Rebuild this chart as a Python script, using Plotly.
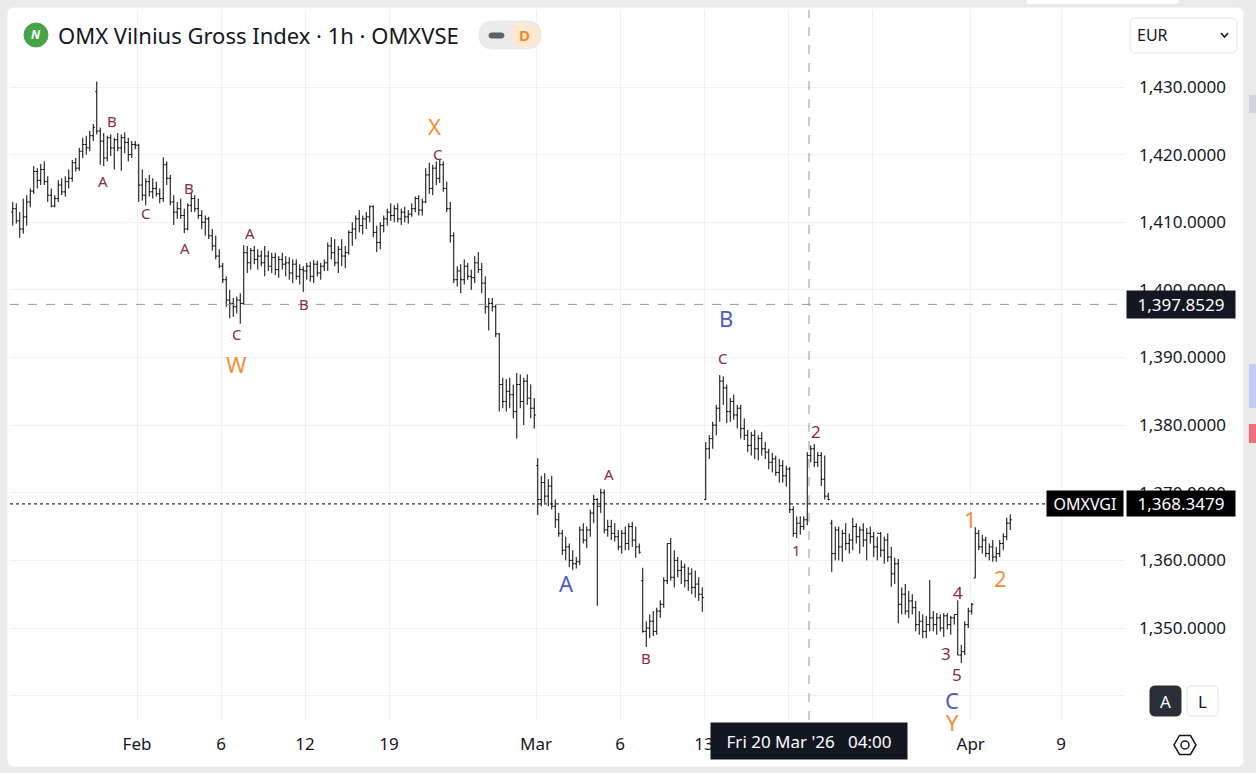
"""OMX Vilnius Gross Index, 1h OHLC bars with Elliott wave labels."""

import plotly.graph_objects as go

# ---- data -----------------------------------------------------------------
BARS_PER_DAY = 6  # hourly bars per session

opens = [
    1411.5, 1412.0, 1410.2, 1409.0, 1410.8, 1413.0,  # Jan 23
    1414.6, 1417.5, 1416.2, 1417.8, 1416.0, 1414.0,  # Jan 26
    1412.4, 1413.5, 1415.5, 1414.5, 1416.0, 1416.5,  # Jan 27
    1418.8, 1418.0, 1420.5, 1421.5, 1421.0, 1422.8,  # Jan 28
    1429.3, 1423.5, 1422.0, 1419.5, 1422.5, 1421.0,  # Jan 29
    1422.2, 1421.0, 1422.5, 1421.8, 1420.0, 1421.5,  # Jan 30
    1421.4, 1415.5, 1414.0, 1416.0, 1414.5, 1415.0,  # Feb 2
    1414.2, 1413.5, 1418.5, 1416.5, 1413.0, 1411.5,  # Feb 3
    1412.0, 1411.0, 1409.0, 1412.5, 1413.5, 1412.0,  # Feb 4
    1411.0, 1410.0, 1410.5, 1408.0, 1406.5, 1405.0,  # Feb 5
    1403.5, 1401.5, 1398.5, 1398.0, 1397.5, 1398.5,  # Feb 6
    1398.0, 1405.5, 1404.0, 1405.8, 1404.5, 1405.0,  # Feb 9
    1404.0, 1405.0, 1403.5, 1404.8, 1403.0, 1404.5,  # Feb 10
    1403.8, 1404.0, 1402.5, 1403.8, 1402.0, 1403.0,  # Feb 11
    1402.8, 1403.5, 1402.0, 1403.8, 1402.5, 1403.5,  # Feb 12
    1404.0, 1406.5, 1405.5, 1404.0, 1406.0, 1405.0,  # Feb 13
    1405.5, 1408.5, 1409.0, 1410.5, 1409.5, 1410.5,  # Feb 17
    1410.8, 1412.3, 1408.5, 1407.0, 1409.5, 1410.5,  # Feb 18
    1411.5, 1411.0, 1412.0, 1410.5, 1411.5, 1410.8,  # Feb 19
    1411.2, 1412.0, 1413.5, 1411.8, 1413.0, 1417.0,  # Feb 20
    1415.0, 1418.0, 1416.5, 1418.5, 1415.0, 1412.0,  # Feb 23
    1408.0, 1401.5, 1402.8, 1401.5, 1403.5, 1402.0,  # Feb 24
    1401.8, 1404.0, 1403.0, 1401.0, 1397.5, 1398.0,  # Feb 25
    1397.5, 1393.5, 1386.0, 1383.5, 1385.0, 1384.5,  # Feb 26
    1382.0, 1386.0, 1383.5, 1386.5, 1384.0, 1382.5,  # Feb 27
    1374.0, 1369.0, 1371.5, 1369.5, 1371.0, 1368.0,  # Mar 2
    1366.0, 1364.0, 1361.5, 1362.0, 1360.0, 1359.5,  # Mar 3
    1359.8, 1364.5, 1363.0, 1364.5, 1367.0, 1369.0,  # Mar 4
    1368.0, 1370.0, 1364.5, 1365.0, 1364.0, 1363.5,  # Mar 5
    1362.0, 1364.0, 1362.5, 1365.0, 1363.0, 1362.0,  # Mar 6
    1357.0, 1349.5, 1350.0, 1351.0, 1349.5, 1352.5,  # Mar 9
    1353.5, 1357.0, 1362.5, 1357.5, 1360.0, 1358.5,  # Mar 10
    1359.0, 1357.0, 1358.0, 1356.0, 1356.5, 1355.0,  # Mar 12
    1369.0, 1376.5, 1378.0, 1380.0, 1382.5, 1386.5,  # Mar 13
    1385.5, 1382.0, 1383.5, 1381.5, 1382.5, 1379.5,  # Mar 16
    1378.5, 1377.0, 1378.5, 1376.5, 1378.0, 1376.5,  # Mar 17
    1376.0, 1374.5, 1375.0, 1373.0, 1374.0, 1372.5,  # Mar 18
    1373.5, 1367.5, 1364.0, 1365.5, 1365.0, 1366.0,  # Mar 19
    1375.5, 1376.5, 1374.5, 1375.5, 1372.0, 1369.5,  # Mar 20
    1365.5, 1361.0, 1364.5, 1362.0, 1364.0, 1362.5,  # Mar 23
    1363.0, 1365.0, 1363.5, 1364.5, 1363.0, 1364.0,  # Mar 24
    1363.5, 1362.0, 1364.0, 1361.5, 1363.0, 1360.5,  # Mar 25
    1358.0, 1359.5, 1353.5, 1355.0, 1352.5, 1354.0,  # Mar 26
    1353.0, 1350.5, 1351.0, 1349.5, 1350.5, 1351.5,  # Mar 27
    1350.5, 1351.5, 1350.0, 1351.8, 1350.5, 1351.5,  # Mar 30
    1352.0, 1346.0, 1346.5, 1350.5, 1352.5, 1357.4,  # Mar 31
    1364.0, 1362.0, 1363.0, 1361.0, 1362.0, 1360.5,  # Apr 1
    1361.0, 1362.5, 1363.5, 1365.5,                  # Apr 2
]
highs = [
    1413.0, 1412.8, 1411.5, 1413.5, 1414.0, 1415.0,
    1418.3, 1418.0, 1418.6, 1419.0, 1416.8, 1415.0,
    1414.0, 1416.2, 1416.5, 1416.8, 1417.8, 1419.2,
    1419.5, 1421.0, 1422.5, 1422.8, 1423.5, 1424.5,
    1430.8, 1424.0, 1423.2, 1422.8, 1423.0, 1422.5,
    1423.2, 1423.0, 1423.3, 1422.5, 1422.0, 1422.0,
    1421.6, 1417.8, 1416.5, 1417.0, 1416.5, 1416.0,
    1415.0, 1419.6, 1419.0, 1417.0, 1414.0, 1413.0,
    1413.5, 1412.0, 1412.8, 1414.3, 1414.0, 1413.5,
    1411.8, 1411.0, 1410.8, 1409.0, 1408.0, 1406.0,
    1404.0, 1402.0, 1400.0, 1398.8, 1399.0, 1399.5,
    1406.6, 1406.5, 1406.2, 1406.5, 1406.0, 1405.8,
    1406.5, 1405.8, 1405.5, 1405.5, 1405.0, 1405.5,
    1405.0, 1404.8, 1404.5, 1404.5, 1403.8, 1403.5,
    1404.0, 1404.2, 1404.4, 1404.3, 1404.0, 1404.5,
    1407.0, 1407.8, 1407.5, 1406.5, 1407.5, 1406.5,
    1408.8, 1410.0, 1411.0, 1411.8, 1411.0, 1411.5,
    1412.5, 1412.5, 1409.5, 1410.0, 1411.0, 1412.0,
    1412.8, 1412.5, 1412.8, 1412.0, 1412.3, 1411.8,
    1412.8, 1413.8, 1414.0, 1413.5, 1418.0, 1418.8,
    1418.5, 1419.0, 1419.2, 1419.0, 1416.0, 1413.0,
    1408.5, 1403.5, 1403.8, 1404.5, 1404.0, 1403.0,
    1405.0, 1405.6, 1404.0, 1402.0, 1398.8, 1398.8,
    1397.8, 1393.6, 1387.0, 1386.8, 1387.0, 1386.0,
    1387.7, 1387.5, 1387.0, 1387.5, 1386.0, 1384.0,
    1375.1, 1372.5, 1372.9, 1372.0, 1372.5, 1369.0,
    1367.0, 1364.5, 1363.5, 1362.5, 1361.5, 1360.5,
    1365.0, 1365.5, 1365.0, 1367.5, 1369.7, 1369.2,
    1370.6, 1370.5, 1366.0, 1366.0, 1365.5, 1364.5,
    1364.5, 1365.0, 1365.5, 1365.7, 1365.0, 1362.5,
    1358.9, 1351.0, 1352.0, 1352.5, 1353.0, 1354.1,
    1357.5, 1362.5, 1363.3, 1361.5, 1360.5, 1360.0,
    1359.5, 1359.0, 1358.8, 1358.5, 1357.5, 1356.0,
    1377.5, 1378.5, 1380.5, 1383.0, 1387.4, 1387.2,
    1386.0, 1384.0, 1384.5, 1383.0, 1383.0, 1381.0,
    1379.3, 1379.0, 1379.3, 1378.5, 1379.0, 1377.5,
    1376.5, 1375.9, 1375.5, 1375.0, 1374.8, 1374.0,
    1373.8, 1368.0, 1366.5, 1366.5, 1366.5, 1376.0,
    1377.0, 1377.2, 1376.0, 1376.0, 1375.5, 1370.0,
    1366.0, 1365.0, 1365.0, 1364.5, 1365.5, 1364.0,
    1366.3, 1365.5, 1365.0, 1365.5, 1364.8, 1365.0,
    1364.2, 1363.5, 1364.2, 1363.5, 1364.0, 1362.0,
    1360.4, 1360.2, 1356.0, 1356.5, 1355.5, 1355.0,
    1354.0, 1352.5, 1352.0, 1351.8, 1357.1, 1352.5,
    1352.2, 1352.0, 1352.2, 1352.2, 1351.8, 1352.0,
    1354.1, 1347.5, 1351.0, 1353.0, 1353.7, 1364.9,
    1364.5, 1363.8, 1363.5, 1362.5, 1363.0, 1362.0,
    1363.0, 1364.0, 1366.3, 1366.8,
]
lows = [
    1409.5, 1409.8, 1407.7, 1408.3, 1409.5, 1412.2,
    1414.2, 1415.0, 1415.5, 1415.5, 1413.0, 1412.2,
    1412.2, 1413.0, 1414.0, 1413.8, 1415.0, 1416.0,
    1417.5, 1417.6, 1419.5, 1420.0, 1420.5, 1422.0,
    1423.0, 1418.5, 1418.3, 1419.0, 1419.8, 1417.8,
    1420.5, 1417.6, 1420.2, 1419.0, 1419.5, 1420.8,
    1413.0, 1413.2, 1412.5, 1413.8, 1413.5, 1413.8,
    1412.8, 1413.0, 1415.5, 1412.5, 1409.6, 1410.5,
    1410.5, 1408.4, 1408.8, 1411.5, 1411.5, 1410.5,
    1409.0, 1408.0, 1407.5, 1405.8, 1404.5, 1403.2,
    1401.0, 1397.5, 1395.8, 1396.0, 1396.5, 1395.0,
    1397.8, 1402.5, 1403.0, 1403.8, 1403.0, 1403.5,
    1402.0, 1402.8, 1402.5, 1402.2, 1401.8, 1403.0,
    1402.0, 1401.5, 1401.0, 1401.5, 1400.8, 1399.7,
    1401.5, 1401.2, 1401.0, 1402.0, 1401.5, 1402.8,
    1402.8, 1404.5, 1403.5, 1402.5, 1403.5, 1403.2,
    1405.2, 1406.5, 1407.5, 1408.5, 1408.2, 1409.0,
    1410.0, 1407.8, 1405.6, 1406.0, 1408.5, 1409.5,
    1410.2, 1410.0, 1410.0, 1409.6, 1410.0, 1409.8,
    1410.8, 1411.5, 1411.0, 1411.0, 1412.8, 1414.2,
    1414.0, 1415.5, 1415.8, 1414.5, 1411.5, 1407.0,
    1401.0, 1400.5, 1399.5, 1400.8, 1401.5, 1400.0,
    1401.0, 1402.5, 1399.5, 1396.5, 1394.0, 1396.8,
    1393.0, 1382.0, 1382.5, 1382.0, 1382.5, 1381.0,
    1378.0, 1382.5, 1380.0, 1383.0, 1381.0, 1379.5,
    1366.7, 1368.0, 1368.5, 1368.0, 1367.5, 1364.8,
    1363.5, 1360.8, 1360.0, 1359.0, 1358.6, 1358.8,
    1359.3, 1362.5, 1361.8, 1363.5, 1365.5, 1353.3,
    1367.0, 1364.0, 1363.5, 1363.0, 1362.8, 1361.5,
    1361.0, 1361.5, 1361.5, 1362.0, 1360.4, 1361.0,
    1349.3, 1347.2, 1348.5, 1348.8, 1349.0, 1351.5,
    1353.0, 1356.5, 1357.0, 1356.0, 1357.5, 1356.5,
    1356.0, 1355.5, 1355.0, 1354.5, 1354.0, 1352.4,
    1368.9, 1375.0, 1376.5, 1378.5, 1380.5, 1383.0,
    1380.3, 1380.5, 1380.8, 1379.5, 1378.0, 1377.8,
    1376.0, 1375.5, 1375.0, 1374.8, 1375.5, 1375.0,
    1373.5, 1373.0, 1372.5, 1371.5, 1371.5, 1370.9,
    1367.0, 1363.5, 1363.3, 1363.8, 1364.5, 1365.2,
    1374.5, 1373.8, 1373.8, 1371.0, 1369.0, 1368.9,
    1358.3, 1360.0, 1360.0, 1359.8, 1361.5, 1361.0,
    1361.5, 1362.5, 1361.0, 1362.0, 1360.0, 1362.5,
    1360.5, 1360.0, 1360.5, 1359.5, 1359.8, 1356.1,
    1356.5, 1350.7, 1352.0, 1352.0, 1351.5, 1352.0,
    1349.5, 1349.0, 1348.5, 1348.5, 1349.5, 1349.5,
    1349.0, 1349.5, 1348.7, 1349.8, 1349.0, 1350.5,
    1346.0, 1344.8, 1346.0, 1350.0, 1352.0, 1357.4,
    1361.5, 1361.0, 1360.5, 1360.0, 1359.8, 1359.8,
    1360.5, 1361.5, 1363.0, 1364.5,
]
closes = [
    1412.0, 1410.2, 1409.0, 1410.8, 1413.0, 1414.6,
    1417.5, 1416.2, 1417.8, 1416.0, 1414.0, 1412.4,
    1413.5, 1415.5, 1414.5, 1416.0, 1416.5, 1418.8,
    1418.0, 1420.5, 1421.5, 1421.0, 1422.8, 1424.0,
    1423.5, 1422.0, 1419.5, 1422.5, 1421.0, 1422.2,
    1421.0, 1422.5, 1421.8, 1420.0, 1421.5, 1421.4,
    1415.5, 1414.0, 1416.0, 1414.5, 1415.0, 1414.2,
    1413.5, 1418.5, 1416.5, 1413.0, 1411.5, 1412.0,
    1411.0, 1409.0, 1412.5, 1413.5, 1412.0, 1411.0,
    1410.0, 1410.5, 1408.0, 1406.5, 1405.0, 1403.5,
    1401.5, 1398.5, 1398.0, 1397.5, 1398.5, 1398.0,
    1405.5, 1404.0, 1405.8, 1404.5, 1405.0, 1404.0,
    1405.0, 1403.5, 1404.8, 1403.0, 1404.5, 1403.8,
    1404.0, 1402.5, 1403.8, 1402.0, 1403.0, 1402.8,
    1403.5, 1402.0, 1403.8, 1402.5, 1403.5, 1404.0,
    1406.5, 1405.5, 1404.0, 1406.0, 1405.0, 1405.5,
    1408.5, 1409.0, 1410.5, 1409.5, 1410.5, 1410.8,
    1412.3, 1408.5, 1407.0, 1409.5, 1410.5, 1411.5,
    1411.0, 1412.0, 1410.5, 1411.5, 1410.8, 1411.2,
    1412.0, 1413.5, 1411.8, 1413.0, 1417.0, 1415.0,
    1418.0, 1416.5, 1418.5, 1415.0, 1412.0, 1408.0,
    1401.5, 1402.8, 1401.5, 1403.5, 1402.0, 1401.8,
    1404.0, 1403.0, 1401.0, 1397.5, 1398.0, 1397.5,
    1393.5, 1386.0, 1383.5, 1385.0, 1384.5, 1382.0,
    1386.0, 1383.5, 1386.5, 1384.0, 1382.5, 1381.5,
    1369.0, 1371.5, 1369.5, 1371.0, 1368.0, 1366.0,
    1364.0, 1361.5, 1362.0, 1360.0, 1359.5, 1359.8,
    1364.5, 1363.0, 1364.5, 1367.0, 1369.0, 1368.0,
    1370.0, 1364.5, 1365.0, 1364.0, 1363.5, 1362.0,
    1364.0, 1362.5, 1365.0, 1363.0, 1362.0, 1361.2,
    1349.5, 1350.0, 1351.0, 1349.5, 1352.5, 1353.5,
    1357.0, 1362.5, 1357.5, 1360.0, 1358.5, 1359.0,
    1357.0, 1358.0, 1356.0, 1356.5, 1355.0, 1354.5,
    1376.5, 1378.0, 1380.0, 1382.5, 1386.5, 1385.5,
    1382.0, 1383.5, 1381.5, 1382.5, 1379.5, 1378.5,
    1377.0, 1378.5, 1376.5, 1378.0, 1376.5, 1376.0,
    1374.5, 1375.0, 1373.0, 1374.0, 1372.5, 1373.5,
    1367.5, 1364.0, 1365.5, 1365.0, 1366.0, 1375.5,
    1376.5, 1374.5, 1375.5, 1372.0, 1369.5, 1369.0,
    1361.0, 1364.5, 1362.0, 1364.0, 1362.5, 1363.0,
    1365.0, 1363.5, 1364.5, 1363.0, 1364.0, 1363.5,
    1362.0, 1364.0, 1361.5, 1363.0, 1360.5, 1358.0,
    1359.5, 1353.5, 1355.0, 1352.5, 1354.0, 1353.0,
    1350.5, 1351.0, 1349.5, 1350.5, 1351.5, 1350.5,
    1351.5, 1350.0, 1351.8, 1350.5, 1351.5, 1352.0,
    1346.0, 1346.5, 1350.5, 1352.5, 1353.5, 1364.0,
    1362.0, 1363.0, 1361.0, 1362.0, 1360.5, 1361.0,
    1362.5, 1363.5, 1365.5, 1366.0,
]

# session index (0 = Jan 23) where each time-axis label sits
tick_days = [6, 10, 14, 18, 25, 29, 33, 37, 41, 45.7, 50]
tick_labels = ["Feb", "6", "12", "19", "Mar", "6", "13", "", "", "Apr", "9"]

price_ticks = [1340, 1350, 1360, 1370, 1380, 1390, 1400, 1410, 1420, 1430]

crosshair_day = 38          # Fri 20 Mar
crosshair_price = 1397.8529
omxvgi_price = 1368.3479

# Elliott wave labels: (text, bar position, price, degree)
wave_labels = [
    ("B", 28.4, 1425.0, "minor"), ("A", 25.8, 1416.1, "minor"),
    ("C", 38.1, 1411.4, "minor"), ("B", 50.4, 1415.1, "minor"),
    ("A", 49.2, 1406.2, "minor"), ("A", 67.8, 1408.4, "minor"),
    ("C", 64.1, 1393.5, "minor"), ("W", 63.8, 1389.0, "major"),
    ("B", 83.2, 1397.9, "minor"), ("X", 120.6, 1424.2, "major"),
    ("C", 121.5, 1420.1, "minor"), ("A", 158.1, 1356.7, "inter"),
    ("A", 170.4, 1372.8, "minor"), ("B", 180.9, 1345.6, "minor"),
    ("B", 203.8, 1395.8, "inter"), ("C", 202.9, 1389.9, "minor"),
    ("2", 229.5, 1379.1, "digit"), ("1", 223.8, 1361.5, "minor"),
    ("1", 273.5, 1366.1, "major"), ("2", 282.1, 1357.4, "major"),
    ("4", 270.1, 1355.2, "digit"), ("3", 266.6, 1346.2, "digit"),
    ("5", 269.8, 1343.1, "digit"), ("C", 268.4, 1339.4, "inter"),
    ("Y", 268.4, 1336.8, "major"),
]
label_style = {
    "minor": ("#8c2a45", 15),
    "digit": ("#8c2a45", 17),
    "inter": ("#4c5cc5", 22),
    "major": ("#f0913a", 22),
}

# ---- figure ---------------------------------------------------------------
FONT = "Noto Sans"
INK = "#131722"
GRID = "#eef0f3"
W, H = 1256, 773
PL, PR, PT, PB = 10, 1125, 10, 720  # plot area in page pixels


def px(x):
    return (x - PL) / (PR - PL)


def py(y):
    return (PB - y) / (PB - PT)


def rounded(x0, y0, x1, y1, r):
    pts = [
        ("M", x0 + r, y0), ("L", x1 - r, y0), ("Q", x1, y0, x1, y0 + r),
        ("L", x1, y1 - r), ("Q", x1, y1, x1 - r, y1), ("L", x0 + r, y1),
        ("Q", x0, y1, x0, y1 - r), ("L", x0, y0 + r), ("Q", x0, y0, x0 + r, y0),
    ]
    out = []
    for p in pts:
        cmd, coords = p[0], p[1:]
        xy = " ".join(f"{px(coords[i]):.5f},{py(coords[i + 1]):.5f}"
                      for i in range(0, len(coords), 2))
        out.append(f"{cmd} {xy}")
    return " ".join(out) + " Z"


def box(x0, y0, x1, y1, r, fill, line=None, layer="above"):
    return dict(type="path", xref="paper", yref="paper", path=rounded(x0, y0, x1, y1, r),
                fillcolor=fill, line=dict(color=line or fill, width=1), layer=layer)


x = list(range(len(closes)))

fig = go.Figure(go.Ohlc(
    x=x, open=opens, high=highs, low=lows, close=closes,
    increasing_line_color="#000000", decreasing_line_color="#000000",
    line_width=1, tickwidth=0.45, showlegend=False, hoverinfo="skip",
))

x_range = [(PL - 12.75) / 3.5, (PR - 12.75) / 3.5]
y_top = 1430 + (87 - PT) / 6.7625
y_bot = 1430 - (PB - 87) / 6.7625

fig.update_xaxes(
    range=x_range, rangeslider_visible=False,
    tickvals=[d * BARS_PER_DAY - 0.5 for d in tick_days], ticktext=tick_labels,
    showgrid=True, gridcolor=GRID, zeroline=False, showline=False, ticks="",
    tickfont=dict(family=FONT, size=17, color=INK), ticklabelstandoff=12,
)
fig.update_yaxes(
    range=[y_bot, y_top], side="right",
    tickvals=price_ticks,
    ticktext=["" if v == 1340 else f"{v:,.4f}" for v in price_ticks],
    showgrid=True, gridcolor=GRID, zeroline=False, showline=False, ticks="",
    tickfont=dict(family=FONT, size=17, color=INK), ticklabelstandoff=13,
)

cross_x = crosshair_day * BARS_PER_DAY - 0.5

shapes = [
    box(8, 8, 1243, 766, 6, "#ffffff", layer="below"),
    box(1025, -12, 1180, 5, 6, "#ffffff", "#dfe1e6"),
    # crosshair + reference lines
    dict(type="line", xref="x", yref="paper", x0=cross_x, x1=cross_x, y0=0, y1=1,
         line=dict(color="#9598a1", width=1, dash="dash")),
    dict(type="line", xref="paper", yref="y", x0=0, x1=1, y0=crosshair_price,
         y1=crosshair_price, line=dict(color="#9598a1", width=1, dash="dash")),
    dict(type="line", xref="paper", yref="y", x0=0, x1=1, y0=omxvgi_price,
         y1=omxvgi_price, line=dict(color="#000000", width=1, dash="dot")),
    # header pill
    box(479, 21, 541, 49, 14, "#ebebeb"),
    box(510, 23, 539, 47, 12, "#fde8d4"),
    box(489, 33, 504, 38, 2.5, "#5d606b"),
    # currency selector
    box(1130, 18, 1237, 53, 6, "#ffffff", "#e0e3eb"),
    dict(type="path", xref="paper", yref="paper",
         path=f"M {px(1221):.5f},{py(33):.5f} L {px(1224.5):.5f},{py(37):.5f} "
              f"L {px(1228):.5f},{py(33):.5f}",
         line=dict(color=INK, width=1.5)),
    # A / L buttons
    box(1150, 686, 1181, 716, 5, "#2a2e39"),
    box(1187, 686, 1218, 716, 5, "#ffffff", "#e0e3eb"),
    # settings icon
    dict(type="path", xref="paper", yref="paper",
         path=(f"M {px(1174):.5f},{py(745):.5f} L {px(1179.5):.5f},{py(735.5):.5f} "
               f"L {px(1190.5):.5f},{py(735.5):.5f} L {px(1196):.5f},{py(745):.5f} "
               f"L {px(1190.5):.5f},{py(754.5):.5f} L {px(1179.5):.5f},{py(754.5):.5f} Z"),
         line=dict(color=INK, width=1.5)),
    dict(type="circle", xref="paper", yref="paper", x0=px(1181), x1=px(1189),
         y0=py(741), y1=py(749), line=dict(color=INK, width=1.5)),
    # symbol logo
    dict(type="circle", xref="paper", yref="paper", x0=px(24), x1=px(48),
         y0=py(23), y1=py(47), fillcolor="#43a548", line=dict(color="#43a548", width=1)),
    # right edge widgets
    dict(type="rect", xref="paper", yref="paper", x0=px(1249), x1=px(1256),
         y0=py(95), y1=py(113), fillcolor="#d1d4dc", line_width=0),
    dict(type="rect", xref="paper", yref="paper", x0=px(1249), x1=px(1256),
         y0=py(364), y1=py(408), fillcolor="#c3ccf5", line_width=0),
    dict(type="rect", xref="paper", yref="paper", x0=px(1249), x1=px(1256),
         y0=py(424), y1=py(443), fillcolor="#f26b75", line_width=0),
]

annotations = []
for text, bx, price, degree in wave_labels:
    color, size = label_style[degree]
    annotations.append(dict(
        x=bx, y=price, xref="x", yref="y", text=text, showarrow=False,
        xanchor="center", yanchor="middle",
        yshift=-5 if text == "Y" else 0,
        font=dict(family=FONT, size=size, color=color),
    ))


def page_text(text, x0, y0, size, color=INK, anchor="left", **kw):
    return dict(xref="paper", yref="paper", x=px(x0), y=py(y0), text=text,
                showarrow=False, xanchor=anchor, yanchor="middle",
                font=dict(family=FONT, size=size, color=color), **kw)


def tag(text, x0, y0, width, height, size, xref="paper", yref="y", bg="#000000"):
    return dict(xref=xref, yref=yref, x=x0, y=y0, text=text, showarrow=False,
                xanchor="center", yanchor="middle", bgcolor=bg,
                width=width, height=height,
                font=dict(family=FONT, size=size, color="#ffffff"))


annotations += [
    page_text("<b><i>N</i></b>", 36, 35, 12, "#ffffff", "center"),
    page_text("OMX Vilnius Gross Index · 1h · OMXVSE", 56, 35, 22),
    page_text("<b>D</b>", 524.5, 35, 15, "#f08a24", "center"),
    page_text("EUR", 1135, 35, 16),
    page_text("A", 1165.5, 701, 17, "#ffffff", "center"),
    page_text("L", 1202.5, 701, 17, INK, "center"),
    # axis value tags
    tag(f"{crosshair_price:,.4f}", px(1181), crosshair_price, 106, 25, 17, bg="#131722"),
    tag("OMXVGI", px(1084.5), omxvgi_price, 74, 23, 16),
    tag(f"{omxvgi_price:,.4f}", px(1181), omxvgi_price, 106, 23, 17),
    tag("Fri 20 Mar '26   04:00", cross_x, py(741), 194, 34, 17,
        xref="x", yref="paper", bg="#131722"),
]

fig.update_layout(
    width=W, height=H, autosize=False,
    margin=dict(l=PL, r=W - PR, t=PT, b=H - PB),
    paper_bgcolor="#ebebeb", plot_bgcolor="#ffffff",
    font=dict(family=FONT, color=INK),
    shapes=shapes, annotations=annotations,
    hovermode=False, dragmode=False,
)

fig.write_html(
    "out.html",
    config={"displayModeBar": False},
    post_script="document.body.style.margin='0';document.body.style.overflow='hidden';",
)
